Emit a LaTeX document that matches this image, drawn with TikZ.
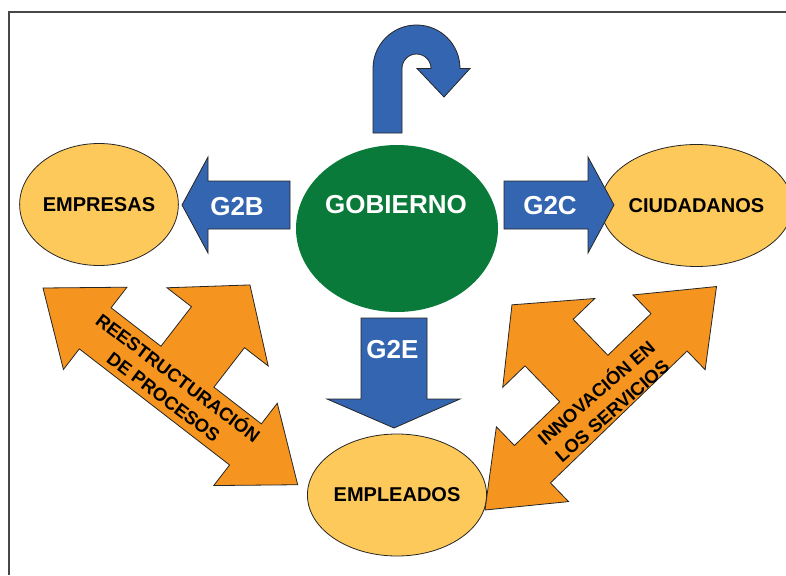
\documentclass[tikz,border=0pt]{standalone}
\usepackage{fontspec}
\setmainfont{Liberation Sans}
\usepackage{tikz}
\usetikzlibrary{shapes.geometric}
\definecolor{azulg}{HTML}{3465B0}
\definecolor{verdeg}{HTML}{0A7A3A}
\definecolor{amarillog}{HTML}{FDC95B}
\definecolor{naranjag}{HTML}{F5951F}
\definecolor{lineag}{HTML}{262626}
\tikzset{
  marco/.style={draw=lineag!85,line width=2pt},
  flecha/.style={draw=lineag,line width=0.8pt,fill=azulg},
  doble/.style={draw=lineag,line width=0.8pt,fill=naranjag},
  circulo/.style={ellipse,draw=lineag,line width=0.8pt,fill=amarillog,minimum width=148pt,minimum height=122pt,inner sep=0pt,font=\bfseries\fontsize{20}{22}\selectfont},
  rotblanco/.style={text=white,font=\bfseries\fontsize{26}{28}\selectfont,inner sep=0pt},
  rotdoble/.style={font=\bfseries\fontsize{18.5}{24}\selectfont,align=center,inner sep=0pt},
  pics/flechatres/.style={code={
    \draw[doble] (0,0) -- (66,-52) -- (66,-26) -- (256,-26) -- (256,-52) -- (322,0) -- (256,52) -- (256,26)
      -- (196,26) -- (196,76) -- (226,76) -- (162,129) -- (98,76) -- (129,76) -- (129,26) -- (66,26) -- (66,52) -- cycle;}},
}

\begin{document}
\begin{tikzpicture}[x=1pt,y=-1pt]
  \useasboundingbox (0,0) rectangle (786,575);
  \fill[white] (0,0) rectangle (786,575);
  % --- marco
  \draw[marco] (9,575) -- (9,12) -- (786,12);
  % --- gobierno y su flecha de retorno
  \node[ellipse,fill=verdeg,minimum width=202pt,minimum height=167pt,inner sep=0pt] (gobierno) at (397,228.5) {};
  \node[rotblanco] (gobtxt) at (396,205) {GOBIERNO};
  \draw[flecha] (373,133) -- (373,68.5) arc[start angle=180,end angle=360,radius=43.5] -- (470,68.5) -- (444,97)
    -- (417,68.5) -- (431,68.5) arc[start angle=0,end angle=-180,radius=14.5] -- (402,133) -- cycle;
  % --- destinatarios
  \node[circulo] (empresas) at (99,204.5) {EMPRESAS};
  \node[circulo] (ciudadanos) at (696.5,205.5) {CIUDADANOS};
  \node[circulo] (empleados) at (397,495) {EMPLEADOS};
  % --- flechas G2B, G2C, G2E
  \draw[flecha] (290,181) -- (208,181) -- (208,157) -- (182,205) -- (208,253) -- (208,229) -- (290,229) -- cycle;
  \node[rotblanco] (g2b) at (237,207) {G2B};
  \draw[flecha] (504,181) -- (588,181) -- (588,157) -- (614,205) -- (588,253) -- (588,229) -- (504,229) -- cycle;
  \node[rotblanco] (g2c) at (550,206) {G2C};
  \draw[flecha] (361,318) -- (427,318) -- (427,399) -- (460,399) -- (394,428) -- (327,399) -- (361,399) -- cycle;
  \node[rotblanco] (g2e) at (392.5,350) {G2E};
  % --- flechas naranjas
  \begin{scope}[shift={(43,288)},x={(0.791pt,-0.611pt)},y={(0.611pt,0.791pt)}]
    \pic {flechatres};
    \node[rotdoble,rotate=-37] (procesos) at (162,1) {REESTRUCTURACIÓN\\DE PROCESOS};
  \end{scope}
  \begin{scope}[shift={(485,510)},x={(0.719pt,0.694pt)},y={(-0.694pt,0.719pt)}]
    \pic {flechatres};
    \node[rotdoble,rotate=41] (servicios) at (161,-3.5) {INNOVACIÓN EN\\LOS SERVICIOS};
  \end{scope}
\end{tikzpicture}
\end{document}
